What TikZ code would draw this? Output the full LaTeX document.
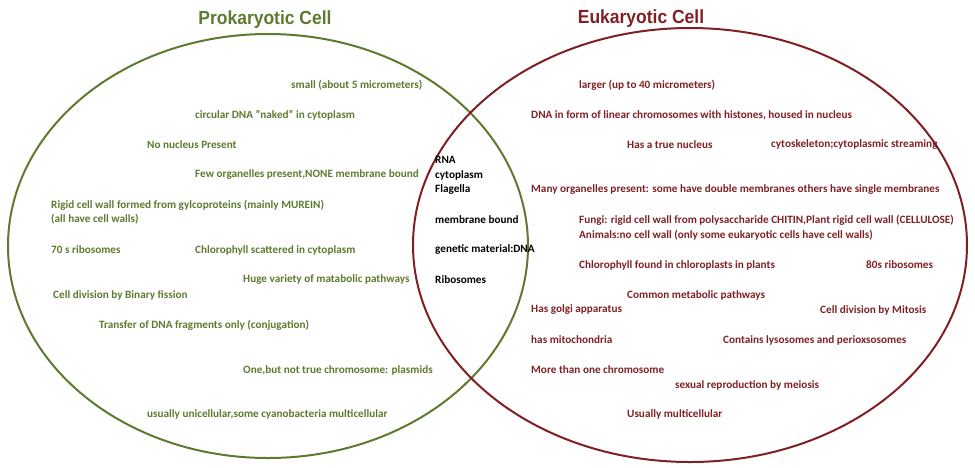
\documentclass[tikz,border=0pt]{standalone}
\usepackage{fontspec}
\setmainfont{Carlito}
\newfontfamily\titlefont{Liberation Sans}
\definecolor{pro}{RGB}{94,122,46}
\definecolor{eu}{RGB}{128,32,36}
\begin{document}
\begin{tikzpicture}[x=1pt,y=-1pt,
 t/.style={anchor=west,inner sep=0pt,font=\fontsize{11.2}{13}\selectfont\bfseries},
 tp/.style={t,text=pro}, te/.style={t,text=eu}, tc/.style={t,text=black},
 ttl/.style={font=\titlefont\fontsize{19}{22}\selectfont\bfseries,inner sep=0pt}]
\useasboundingbox (0,0) rectangle (975,467);
\draw[pro,line width=2pt] (268,246) ellipse [x radius=260,y radius=212];
\draw[eu,line width=2pt] (690,245) ellipse [x radius=277,y radius=217];
\node[ttl,text=pro,xscale=0.92] (tp) at (265,20) {Prokaryotic Cell};
\node[ttl,text=eu,xscale=0.92] (te) at (641,19) {Eukaryotic Cell};
\node[tp] (p1) at (291,85) {small (about 5 micrometers)};
\node[tp] (p2) at (195,115) {circular DNA "naked" in cytoplasm};
\node[tp] (p3) at (147,145) {No nucleus Present};
\node[tp] (p4) at (195,175) {Few organelles present,NONE membrane bound};
\node[tp] (p5) at (51,205) {Rigid cell wall formed from gylcoproteins (mainly MUREIN)};
\node[tp] (p6) at (51,219) {(all have cell walls)};
\node[tp] (p7) at (51,250) {70 s ribosomes};
\node[tp] (p8) at (195,250) {Chlorophyll scattered in cytoplasm};
\node[tp] (p9) at (243,280) {Huge variety of matabolic pathways};
\node[tp] (p10) at (53,295) {Cell division by Binary fission};
\node[tp] (p11) at (99,325) {Transfer of DNA fragments only (conjugation)};
\node[tp] (p12) at (243,370) {One,but not true chromosome: plasmids};
\node[tp] (p13) at (147,414) {usually unicellular,some cyanobacteria multicellular};
\node[tc] (c1) at (435,160) {RNA};
\node[tc] (c2) at (435,175) {cytoplasm};
\node[tc] (c3) at (435,190) {Flagella};
\node[tc] (c4) at (435,220) {membrane bound};
\node[tc] (c5) at (435,250) {genetic material:DNA};
\node[tc] (c6) at (435,280) {Ribosomes};
\node[te] (e1) at (579,85) {larger (up to 40 micrometers)};
\node[te] (e2) at (531,115) {DNA in form of linear chromosomes with histones, housed in nucleus};
\node[te] (e3) at (627,145) {Has a true nucleus};
\node[te] (e4) at (771,145) {cytoskeleton;cytoplasmic streaming};
\node[te] (e5) at (531,190) {Many organelles present: some have double membranes others have single membranes};
\node[te] (e6) at (579,220) {Fungi: rigid cell wall from polysaccharide CHITIN,Plant rigid cell wall (CELLULOSE)};
\node[te] (e7) at (579,235) {Animals:no cell wall (only some eukaryotic cells have cell walls)};
\node[te] (e8) at (579,265) {Chlorophyll found in chloroplasts in plants};
\node[te] (e9) at (866,265) {80s ribosomes};
\node[te] (e10) at (627,295) {Common metabolic pathways};
\node[te] (e11) at (531,310) {Has golgi apparatus};
\node[te] (e12) at (820,310) {Cell division by Mitosis};
\node[te] (e13) at (531,340) {has mitochondria};
\node[te] (e14) at (723,340) {Contains lysosomes and perioxsosomes};
\node[te] (e15) at (531,370) {More than one chromosome};
\node[te] (e16) at (675,385) {sexual reproduction by meiosis};
\node[te] (e17) at (627,414) {Usually multicellular};
\end{tikzpicture}
\end{document}
